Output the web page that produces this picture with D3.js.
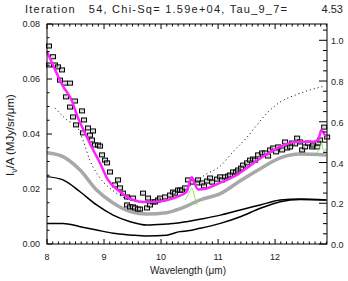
<!DOCTYPE html>
<html>
<head>
<meta charset="utf-8">
<script src="https://cdn.jsdelivr.net/npm/d3@7"></script>
<style>
  body { margin: 0; background: #fff; }
  text { font-family: "Liberation Sans", "DejaVu Sans", sans-serif; fill: #222; }
</style>
</head>
<body>
<svg width="348" height="281"></svg>
<script>
// observed spectrum (squares)
var dataWave = [8.035, 8.035, 8.105, 8.14, 8.193, 8.228, 8.263, 8.316, 8.333, 8.404, 8.404, 8.456, 8.491, 8.509,
  8.614, 8.632, 8.649, 8.719, 8.754, 8.789, 8.807, 8.842, 8.895, 8.93, 8.965, 9.018, 9.053, 9.105, 9.193,
  9.246, 9.281, 9.333, 9.404, 9.404, 9.456, 9.509, 9.509, 9.544, 9.596, 9.632, 9.684, 9.754, 9.772, 9.807,
  9.86, 9.895, 9.947, 9.982, 10.07, 10.158, 10.211, 10.246, 10.298, 10.333, 10.368, 10.421, 10.474, 10.561,
  10.632, 10.649, 10.719, 10.754, 10.807, 10.86, 10.895, 10.982, 11.035, 11.07, 11.123, 11.175, 11.211,
  11.263, 11.316, 11.351, 11.404, 11.439, 11.509, 11.561, 11.614, 11.649, 11.702, 11.772, 11.825, 11.877,
  11.912, 11.965, 12.018, 12.053, 12.123, 12.175, 12.211, 12.263, 12.298, 12.35, 12.386, 12.439, 12.474,
  12.526, 12.579, 12.649, 12.667, 12.737, 12.754, 12.789, 12.86, 12.912];
var dataFlux = [0.0720, 0.0651, 0.0681, 0.0651, 0.0644, 0.0596, 0.0633, 0.0585, 0.0535, 0.0585, 0.0498, 0.0462, 0.0520, 0.0433,
  0.0484, 0.0404, 0.0451, 0.0422, 0.0396, 0.0378, 0.0411, 0.0360, 0.0360, 0.0356, 0.0324, 0.0305, 0.0295, 0.0262, 0.0215,
  0.0233, 0.0204, 0.0185, 0.0171, 0.0142, 0.0135, 0.0167, 0.0135, 0.0131, 0.0127, 0.0127, 0.0185, 0.0131, 0.0167, 0.0142,
  0.0153, 0.0153, 0.0160, 0.0167, 0.0171, 0.0178, 0.0189, 0.0185, 0.0196, 0.0196, 0.0196, 0.0204, 0.0233, 0.0225,
  0.0222, 0.0233, 0.0222, 0.0211, 0.0229, 0.0240, 0.0225, 0.0236, 0.0244, 0.0233, 0.0244, 0.0247, 0.0251,
  0.0262, 0.0262, 0.0269, 0.0276, 0.0287, 0.0295, 0.0305, 0.0309, 0.0305, 0.0324, 0.0331, 0.0331, 0.0320,
  0.0342, 0.0349, 0.0335, 0.0353, 0.0342, 0.0371, 0.0349, 0.0353, 0.0367, 0.0364, 0.0385, 0.0371, 0.0342,
  0.0353, 0.0367, 0.0353, 0.0360, 0.0353, 0.0367, 0.0378, 0.0425, 0.0389];

// total model (magenta)
var modelWave = [8.00, 8.15, 8.27, 8.43, 8.55, 8.64, 8.81, 8.93, 9.07, 9.28, 9.51, 9.70, 9.98, 10.21, 10.33, 10.45,
  10.50, 10.54, 10.58, 10.65, 10.80, 11.03, 11.33, 11.56, 11.79, 12.09, 12.38, 12.67, 12.76, 12.81, 12.86, 12.90];
var modelFlux = [0.0700, 0.0630, 0.0578, 0.0524, 0.0455, 0.0415, 0.0342, 0.0294, 0.0233, 0.0190, 0.0160, 0.0153, 0.0155, 0.0166, 0.0176, 0.0190,
  0.0225, 0.0243, 0.0225, 0.0198, 0.0202, 0.0222, 0.0251, 0.0285, 0.0318, 0.0354, 0.0372, 0.0372, 0.0380, 0.0415, 0.0400, 0.0390];

// continuum components
var contWave = [8.00, 8.28, 8.58, 8.87, 9.16, 9.46, 9.75, 10.10, 10.33, 10.47, 10.68, 11.04, 11.39, 11.74, 12.09, 12.44, 12.90];
var grayFlux = [0.0332, 0.0318, 0.0269, 0.0196, 0.0149, 0.0118, 0.0109, 0.0114, 0.0128, 0.0140, 0.0160, 0.0183, 0.0230, 0.0274, 0.0313, 0.0327, 0.0324];
var warmFlux = [0.0245, 0.0233, 0.0190, 0.0142, 0.0105, 0.0081, 0.0069, 0.0073, 0.0077, 0.0082, 0.0090, 0.0105, 0.0124, 0.0142, 0.0160, 0.0164, 0.0160];
var coolFlux = [0.0075, 0.0075, 0.0063, 0.0051, 0.0039, 0.0033, 0.0029, 0.0032, 0.0045, 0.0048, 0.0057, 0.0075, 0.0099, 0.0130, 0.0154, 0.0162, 0.0160];

// extinction profile (right axis, dotted)
var tauWave = [8.14, 8.35, 8.53, 8.63, 8.75, 8.93, 9.19, 9.46, 9.81, 10.16, 10.51, 10.77, 11.04, 11.26, 11.51, 11.68, 11.86, 12.09, 12.35, 12.61, 12.88];
var tauVal = [0.668, 0.609, 0.574, 0.510, 0.412, 0.324, 0.255, 0.216, 0.201, 0.226, 0.285, 0.339, 0.383, 0.452, 0.525, 0.584, 0.643, 0.697, 0.731, 0.756, 0.776];

// emission lines (green)
var lineAWave = [10.42, 10.48, 10.54, 10.59, 10.63];
var lineAFlux = [0.0160, 0.0180, 0.0203, 0.0170, 0.0142];
var lineBWave = [12.72, 12.77, 12.81, 12.85, 12.90];
var lineBFlux = [0.0330, 0.0345, 0.0368, 0.0340, 0.0345];

var xTicks = [8, 9, 10, 11, 12];
var yTicks = [0, 0.02, 0.04, 0.06, 0.08];
var y2Ticks = [0, 0.2, 0.4, 0.6, 0.8, 1.0];

var svg = d3.select("svg");
var pl = 47, pr = 327, pt = 24, pb = 244;

var x = d3.scaleLinear().domain([8, 12.91]).range([pl, pr]);
var y = d3.scaleLinear().domain([0, 0.08]).range([pb, pt]);
var y2 = d3.scaleLinear().domain([0, 1.08]).range([pb, pt]);

function line(xs, ys, sc) {
  return d3.line().x((d, i) => x(xs[i])).y((d, i) => sc(ys[i])).curve(d3.curveMonotoneX)(xs);
}

// dotted extinction curve
svg.append("path").attr("d", line(tauWave, tauVal, y2))
  .attr("fill", "none").attr("stroke", "#000").attr("stroke-width", 1).attr("stroke-dasharray", "1,3");

svg.append("path").attr("d", line(contWave, coolFlux, y))
  .attr("fill", "none").attr("stroke", "#000").attr("stroke-width", 1.5);
svg.append("path").attr("d", line(contWave, warmFlux, y))
  .attr("fill", "none").attr("stroke", "#000").attr("stroke-width", 1.5);
svg.append("path").attr("d", line(contWave, grayFlux, y))
  .attr("fill", "none").attr("stroke", "#a8a8a8").attr("stroke-width", 3.5);

svg.append("g").selectAll("rect").data(dataWave).enter().append("rect")
  .attr("x", (d, i) => x(d) - 2.5).attr("y", (d, i) => y(dataFlux[i]) - 2)
  .attr("width", 5).attr("height", 4)
  .attr("fill", "#bbb").attr("fill-opacity", 0.5).attr("stroke", "#000").attr("stroke-width", 1);

svg.append("path").attr("d", line(lineAWave, lineAFlux, y))
  .attr("fill", "none").attr("stroke", "#88e060").attr("stroke-width", 1);
svg.append("path").attr("d", line(lineBWave, lineBFlux, y))
  .attr("fill", "none").attr("stroke", "#88e060").attr("stroke-width", 1);

svg.append("path").attr("d", line(modelWave, modelFlux, y))
  .attr("fill", "none").attr("stroke", "#ff22ff").attr("stroke-width", 2.5);

// axes box
var ax = svg.append("g").attr("stroke", "#000").attr("stroke-width", 1);
ax.append("rect").attr("x", pl).attr("y", pt).attr("width", pr - pl).attr("height", pb - pt).attr("fill", "none");

var xMinor = d3.range(8, 12.91, 0.1);
xMinor.forEach(function(v) {
  var major = Math.abs(v - Math.round(v)) < 1e-6;
  var len = major ? 5 : 2.5;
  ax.append("line").attr("x1", x(v)).attr("x2", x(v)).attr("y1", pb).attr("y2", pb - len);
  ax.append("line").attr("x1", x(v)).attr("x2", x(v)).attr("y1", pt).attr("y2", pt + len);
});
d3.range(0, 0.0801, 0.005).forEach(function(v) {
  var major = Math.abs(v / 0.02 - Math.round(v / 0.02)) < 1e-6;
  ax.append("line").attr("x1", pl).attr("x2", pl + (major ? 5 : 2.5)).attr("y1", y(v)).attr("y2", y(v));
});
d3.range(0, 1.0801, 0.05).forEach(function(v) {
  var major = Math.abs(v / 0.2 - Math.round(v / 0.2)) < 1e-6;
  ax.append("line").attr("x1", pr).attr("x2", pr - (major ? 8 : 4)).attr("y1", y2(v)).attr("y2", y2(v));
});

svg.append("g").selectAll("text").data(xTicks).enter().append("text")
  .attr("x", d => x(d)).attr("y", 260).attr("text-anchor", "middle").attr("font-size", 9).text(d => d);
svg.append("g").selectAll("text").data(yTicks).enter().append("text")
  .attr("x", 40).attr("y", d => y(d) + 3).attr("text-anchor", "end").attr("font-size", 9).text(d3.format(".2f"));
svg.append("g").selectAll("text").data(y2Ticks).enter().append("text")
  .attr("x", 331).attr("y", d => y2(d) + 4).attr("text-anchor", "start").attr("font-size", 9).text(d3.format(".1f"));

svg.append("text").attr("x", 188).attr("y", 274).attr("text-anchor", "middle").attr("font-size", 10)
  .text("Wavelength (\u03bcm)");

var yl = svg.append("text").attr("transform", "translate(14,135) rotate(-90)").attr("text-anchor", "middle").attr("font-size", 11.5);
yl.append("tspan").text("I");
yl.append("tspan").attr("font-size", 8.5).attr("dy", 2.5).text("\u03bd");
yl.append("tspan").attr("dy", -2.5).text("/A (MJy/sr/\u03bcm)");

svg.append("text").attr("x", 25).attr("y", 13).attr("font-size", 11)
  .style("white-space", "pre")
  .attr("textLength", 262).attr("lengthAdjust", "spacing")
  .text("Iteration   54, Chi-Sq= 1.59e+04, Tau_9_7=");
svg.append("text").attr("x", 343).attr("y", 13).attr("font-size", 11).attr("text-anchor", "end").text("4.53");
</script>
</body>
</html>
